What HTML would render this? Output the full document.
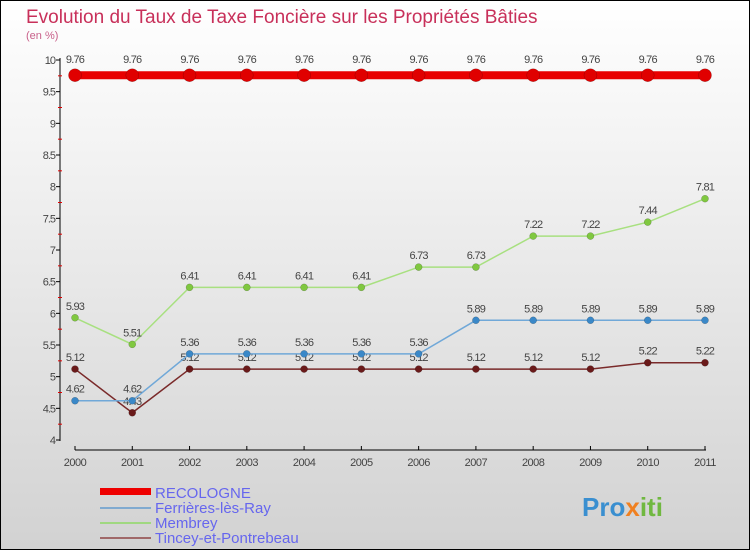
<!DOCTYPE html>
<html><head><meta charset="utf-8"><style>
body{margin:0}
#c{width:750px;height:550px;position:relative;font-family:"Liberation Sans",sans-serif;}
</style></head><body>
<div id="c">
<svg id="s" width="750" height="550" xmlns="http://www.w3.org/2000/svg" font-family="Liberation Sans, sans-serif">
<defs><linearGradient id="bg" x1="0" y1="0" x2="0" y2="1"><stop offset="0" stop-color="#ffffff"/><stop offset="1" stop-color="#d2d2d2"/></linearGradient></defs>
<rect x="0.5" y="0.5" width="749" height="549" fill="url(#bg)" stroke="#000"/>
<text x="26" y="23" font-size="19" fill="#c8305a">Evolution du Taux de Taxe Foncière sur les Propriétés Bâties</text>
<text x="26" y="39" font-size="11" fill="#c8608a">(en %)</text>
<line x1="60" y1="58" x2="60" y2="441" stroke="#000"/>
<line x1="75" y1="450" x2="706" y2="450" stroke="#000"/>
<g id="axes"></g><g id="series"></g>
<g>
<rect x="100" y="488" width="51" height="7" fill="#e00"/>
<text x="155" y="498" font-size="15" fill="#6666ee">RECOLOGNE</text>
<line x1="100" y1="508" x2="151" y2="508" stroke="#80aad0" stroke-width="2"/>
<text x="155" y="513" font-size="15" fill="#6666ee">Ferrières-lès-Ray</text>
<line x1="100" y1="523" x2="151" y2="523" stroke="#a0d880" stroke-width="2"/>
<text x="155" y="528" font-size="15" fill="#6666ee">Membrey</text>
<line x1="100" y1="538" x2="151" y2="538" stroke="#a06868" stroke-width="2"/>
<text x="155" y="543" font-size="15" fill="#6666ee">Tincey-et-Pontrebeau</text>
</g>
<text x="582" y="516" font-size="26" font-weight="bold" fill="#3a8fd0">Pro<tspan fill="#f08020">x</tspan><tspan fill="#70b840">iti</tspan></text>
</svg></div>
<script>
const years=[2000,2001,2002,2003,2004,2005,2006,2007,2008,2009,2010,2011];
const recologne=[9.76,9.76,9.76,9.76,9.76,9.76,9.76,9.76,9.76,9.76,9.76,9.76];
const ferrieres=[4.62,4.62,5.36,5.36,5.36,5.36,5.36,5.89,5.89,5.89,5.89,5.89];
const membrey=[5.93,5.51,6.41,6.41,6.41,6.41,6.73,6.73,7.22,7.22,7.44,7.81];
const tincey=[5.12,4.43,5.12,5.12,5.12,5.12,5.12,5.12,5.12,5.12,5.22,5.22];
const yTicks=[4,4.5,5,5.5,6,6.5,7,7.5,8,8.5,9,9.5,10];
const NS="http://www.w3.org/2000/svg";
function X(i){return 75+i*(630/11);}
function Y(v){return 60+(10-v)*(380/6);}
function mk(t,a,p){const e=document.createElementNS(NS,t);for(const k in a)e.setAttribute(k,a[k]);p.appendChild(e);return e;}
const ax=document.getElementById('axes');
yTicks.forEach((v,i)=>{
 const l=mk('line',{x1:56,x2:60,y1:Y(v),y2:Y(v),stroke:'#000'},ax);
 
 
 const t=mk('text',{x:55,y:Y(v)+4,'font-size':11,fill:'#444','text-anchor':'end','letter-spacing':'-1'},ax);
 t.textContent=String(v);
 
 
 if(i<yTicks.length-1){const m=mk('line',{x1:58,x2:62,y1:Y(v+0.25),y2:Y(v+0.25),stroke:'#d00'},ax);
 
 }
});
years.forEach((yr,i)=>{
 const l=mk('line',{x1:X(i),x2:X(i),y1:446,y2:450,stroke:'#000'},ax);
 
 
 const t=mk('text',{x:X(i),y:466,'font-size':11,fill:'#444','text-anchor':'middle','letter-spacing':'-0.5'},ax);
 t.textContent=yr;
 
 
});
const sg=document.getElementById('series');
function series(d,col,dot,w,r,name,labOff){
 const g=mk('g',{},sg);
 
 
 const pl=mk('polyline',{points:d.map((v,i)=>X(i)+','+Y(v)).join(' '),fill:'none',stroke:col,'stroke-width':w},g);
 
 
 d.forEach((v,i)=>{
  const c=mk('circle',{cx:X(i),cy:Y(v),r:r,fill:dot,stroke:'rgba(0,0,0,0.3)','stroke-width':0.5},g);
  
  
  const t=mk('text',{x:X(i),y:Y(v)-labOff,'font-size':11,fill:'#444','text-anchor':'middle','letter-spacing':'-0.8'},g);
  t.textContent=String(v);
  
  
 });
}
series(tincey,'#7a2a2a','#6a1a1a',1.5,3.5,'tincey',8);
series(ferrieres,'#70a8d8','#3a88c8',1.5,3.5,'ferrieres',8);
series(membrey,'#a8e080','#80c840',1.5,3.5,'membrey',8);
series(recologne,'#e80000','#e00000',8,6.5,'recologne',12);
</script>
</body></html>
